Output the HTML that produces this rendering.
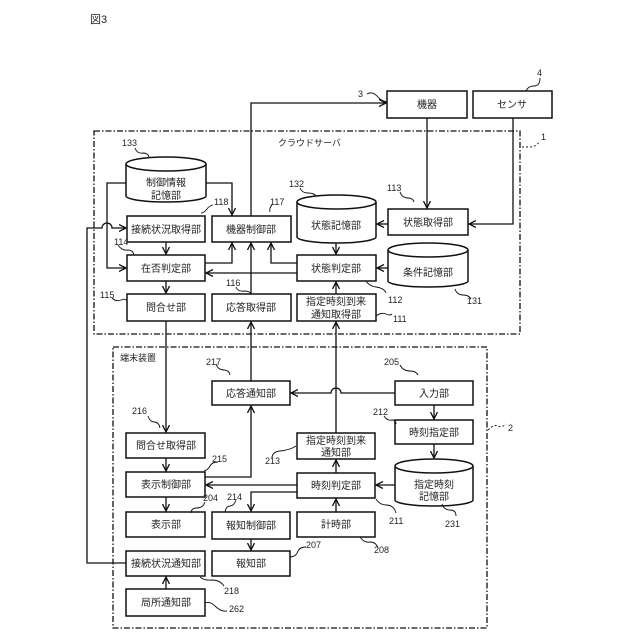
<!DOCTYPE html>
<html><head><meta charset="utf-8"><style>
html,body{margin:0;padding:0;background:#fff}
svg{display:block}
text{font-family:"Liberation Sans","Noto Sans CJK JP",sans-serif;fill:#222}
.b{font-size:10px;text-anchor:middle}
.n{font-size:9px}
</style></head><body>
<svg width="640" height="640" viewBox="0 0 640 640" xmlns="http://www.w3.org/2000/svg">
<defs><marker id="a" markerWidth="8" markerHeight="8" refX="7" refY="4" orient="auto" markerUnits="userSpaceOnUse"><path d="M0,0.5 L7,4 L0,7.5" fill="none" stroke="#111" stroke-width="1.3"/></marker></defs>
<text x="90" y="23" style="font-size:11px">図3</text>
<g fill="none" stroke="#111" stroke-width="1.3" stroke-dasharray="6,2,1.5,2">
<rect x="94" y="131" width="426" height="203"/>
<rect x="113" y="347" width="374" height="281"/>
</g>
<text x="278" y="146" class="n">クラウドサーバ</text>
<text x="120" y="361" class="n">端末装置</text>
<g fill="#fff" stroke="#111" stroke-width="1.5">
<rect x="387" y="91" width="80" height="27"/><rect x="473" y="91" width="79" height="27"/>
<rect x="127" y="216" width="78" height="26"/><rect x="212" y="216" width="79" height="26"/>
<rect x="388" y="209" width="80" height="26"/>
<rect x="127" y="255" width="78" height="26"/><rect x="297" y="255" width="79" height="26"/>
<rect x="127" y="294" width="78" height="27"/><rect x="212" y="294" width="79" height="27"/><rect x="297" y="294" width="79" height="27"/>
<rect x="212" y="381" width="78" height="24"/><rect x="395" y="381" width="78" height="24"/>
<rect x="395" y="420" width="78" height="24"/>
<rect x="297" y="433" width="78" height="26"/><rect x="297" y="473" width="78" height="25"/><rect x="297" y="512" width="78" height="25"/>
<rect x="126" y="433" width="79" height="25"/><rect x="126" y="472" width="79" height="25"/><rect x="126" y="512" width="79" height="25"/>
<rect x="212" y="512" width="78" height="27"/><rect x="212" y="551" width="78" height="25"/>
<rect x="126" y="551" width="79" height="25"/><rect x="126" y="589" width="79" height="27"/>
<!-- cylinders -->
<path d="M126,164 v32 a40,6 0 0 0 80,0 v-32"/><ellipse cx="166" cy="164" rx="40" ry="7"/>
<path d="M297,202 v35 a39.5,6 0 0 0 79,0 v-35"/><ellipse cx="336.5" cy="202" rx="39.5" ry="7"/>
<path d="M388,250 v31 a40,6 0 0 0 80,0 v-31"/><ellipse cx="428" cy="250" rx="40" ry="7"/>
<path d="M395,466 v34 a39,6 0 0 0 78,0 v-34"/><ellipse cx="434" cy="466" rx="39" ry="7"/>
</g>
<g class="b">
<text x="427" y="108">機器</text><text x="512" y="108">センサ</text>
<text x="166" y="186">制御情報</text><text x="166" y="199">記憶部</text>
<text x="166" y="233">接続状況取得部</text><text x="251" y="233">機器制御部</text>
<text x="336" y="229">状態記憶部</text><text x="428" y="226">状態取得部</text>
<text x="166" y="272">在否判定部</text><text x="336" y="272">状態判定部</text>
<text x="428" y="276">条件記憶部</text>
<text x="166" y="311">問合せ部</text><text x="251" y="311">応答取得部</text>
<text x="336" y="305">指定時刻到来</text><text x="336" y="318">通知取得部</text>
<text x="251" y="397">応答通知部</text><text x="434" y="397">入力部</text>
<text x="434" y="436">時刻指定部</text>
<text x="434" y="488">指定時刻</text><text x="434" y="500">記憶部</text>
<text x="336" y="444">指定時刻到来</text><text x="336" y="456">通知部</text>
<text x="336" y="489">時刻判定部</text><text x="336" y="528">計時部</text>
<text x="166" y="449">問合せ取得部</text><text x="166" y="488">表示制御部</text><text x="166" y="528">表示部</text>
<text x="251" y="529">報知制御部</text><text x="251" y="567">報知部</text>
<text x="166" y="567">接続状況通知部</text><text x="166" y="606">局所通知部</text>
</g>
<g fill="none" stroke="#111" stroke-width="1.3">
<path d="M251,216 V103 H386" marker-end="url(#a)"/>
<path d="M427,118 V208" marker-end="url(#a)"/>
<path d="M513,118 V224 H469" marker-end="url(#a)"/>
<path d="M388,224 H377" marker-end="url(#a)"/>
<path d="M336,243 V254" marker-end="url(#a)"/>
<path d="M388,268 H377" marker-end="url(#a)"/>
<path d="M297,273 H206" marker-end="url(#a)"/>
<path d="M297,263 H271 V243" marker-end="url(#a)"/>
<path d="M205,263 H232 V243" marker-end="url(#a)"/>
<path d="M206,183 H232 V215" marker-end="url(#a)"/>
<path d="M126,183 H107 V268 H126" marker-end="url(#a)"/>
<path d="M166,242 V254" marker-end="url(#a)"/>
<path d="M166,281 V293" marker-end="url(#a)"/>
<path d="M251,294 V243" marker-end="url(#a)"/>
<path d="M336,294 V282" marker-end="url(#a)"/>
<path d="M126,563 H87 V228 H102 a5,5 0 0 1 10,0 H126" marker-end="url(#a)"/>
<path d="M166,321 V432" marker-end="url(#a)"/>
<path d="M251,381 V322" marker-end="url(#a)"/>
<path d="M336,433 V322" marker-end="url(#a)"/>
<path d="M395,393 H341 a5,5 0 0 0 -10,0 H291" marker-end="url(#a)"/>
<path d="M434,405 V419" marker-end="url(#a)"/>
<path d="M434,444 V458" marker-end="url(#a)"/>
<path d="M395,485 H376" marker-end="url(#a)"/>
<path d="M336,473 V460" marker-end="url(#a)"/>
<path d="M297,485 H206" marker-end="url(#a)"/>
<path d="M297,492 H251 V511" marker-end="url(#a)"/>
<path d="M336,512 V499" marker-end="url(#a)"/>
<path d="M205,477 H251 V406" marker-end="url(#a)"/>
<path d="M166,458 V471" marker-end="url(#a)"/>
<path d="M166,497 V511" marker-end="url(#a)"/>
<path d="M251,539 V550" marker-end="url(#a)"/>
<path d="M166,589 V577" marker-end="url(#a)"/>
<!-- leader squiggles -->
<g stroke-width="0.9">
<path d="M367,94 q5,-3 10,2 q4,5 10,6"/>
<path d="M540,78 q0,8 -6,8 q-6,0 -8,5"/>
<path d="M522,147 h8 q6,0 10,-6" stroke-dasharray="2,2"/>
<path d="M488,430 q6,-6 10,-4 q4,2 8,-2" stroke-dasharray="2,2"/>
<path d="M135,148 q2,6 8,5 q5,0 6,4"/>
<path d="M300,188 q2,5 8,5 q6,0 8,3"/>
<path d="M400,192 q2,6 8,6 q5,0 6,4"/>
<path d="M213,205 q-4,1 -6,4 q-3,4 -6,4"/>
<path d="M272,205 q-3,3 -2,7"/>
<path d="M118,245 q4,6 10,5 q5,0 6,5"/>
<path d="M236,287 q2,5 8,4 q6,0 7,3"/>
<path d="M112,298 q4,4 9,2 q4,-2 6,1"/>
<path d="M366,281 q3,5 10,6 q8,1 10,6"/>
<path d="M376,316 q5,-4 10,-2 q4,2 6,0"/>
<path d="M455,289 q2,6 8,6 q6,0 8,4"/>
<path d="M216,364 q2,6 8,6 q5,0 6,5"/>
<path d="M400,365 q3,6 10,6 q6,0 8,4"/>
<path d="M148,416 q2,6 6,6 q5,0 6,6"/>
<path d="M384,416 q3,5 8,4 q4,0 4,4"/>
<path d="M218,462 q-6,0 -8,4 q-2,4 -6,5"/>
<path d="M272,458 q0,-6 8,-7 q10,-1 16,-5"/>
<path d="M205,502 q-2,6 -8,6 q-6,0 -6,5"/>
<path d="M236,500 q-2,6 -6,6 q-4,0 -5,6"/>
<path d="M376,499 q4,6 10,6 q8,0 10,8"/>
<path d="M442,504 q2,6 8,6 q6,0 6,6"/>
<path d="M306,547 q-6,0 -8,4 q-2,6 -8,6"/>
<path d="M360,537 q4,6 10,5 q6,0 8,6"/>
<path d="M200,577 q5,4 12,3 q8,0 12,6"/>
<path d="M205,603 q5,-2 10,3 q6,6 12,5"/>
</g>
</g>
<g class="n">
<text x="358" y="97">3</text><text x="537" y="76">4</text><text x="541" y="140">1</text><text x="508" y="431">2</text>
<text x="122" y="146">133</text><text x="289" y="187">132</text><text x="387" y="191">113</text>
<text x="214" y="205">118</text><text x="270" y="205">117</text><text x="114" y="245">114</text>
<text x="226" y="286">116</text><text x="100" y="298">115</text><text x="388" y="303">112</text>
<text x="393" y="322">111</text><text x="467" y="304">131</text>
<text x="206" y="365">217</text><text x="384" y="365">205</text><text x="132" y="414">216</text>
<text x="373" y="415">212</text><text x="212" y="462">215</text><text x="265" y="464">213</text>
<text x="203" y="501">204</text><text x="227" y="500">214</text><text x="389" y="524">211</text>
<text x="445" y="527">231</text><text x="306" y="548">207</text><text x="374" y="553">208</text>
<text x="224" y="594">218</text><text x="229" y="612">262</text>
</g>
</svg>
</body></html>
